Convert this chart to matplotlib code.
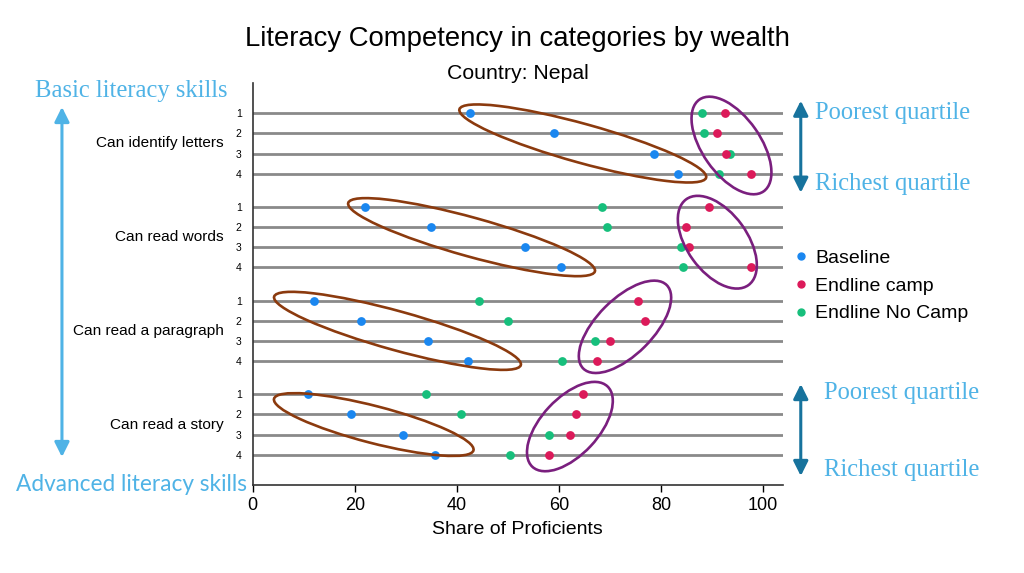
"""Literacy competency by wealth quartile, Nepal: dot plot with annotation ellipses."""

import matplotlib
matplotlib.use("Agg")
import matplotlib.pyplot as plt
import numpy as np
from matplotlib.lines import Line2D
from matplotlib.patches import Ellipse, FancyArrowPatch
from matplotlib.transforms import ScaledTranslation

categories = ["Can identify letters", "Can read words",
              "Can read a paragraph", "Can read a story"]
quartiles = ["1", "2", "3", "4"]

# share of proficients per quartile (1 = poorest ... 4 = richest)
baseline = [[42.6, 59.1, 78.6, 83.3],
            [22.0, 35.0, 53.3, 60.5],
            [12.1, 21.2, 34.4, 42.2],
            [10.8, 19.3, 29.5, 35.7]]
endline_camp = [[92.5, 91.0, 92.7, 97.6],
                [89.4, 85.0, 85.5, 97.6],
                [75.5, 76.9, 70.1, 67.4],
                [64.8, 63.3, 62.2, 58.0]]
endline_no_camp = [[88.0, 88.4, 93.5, 91.5],
                   [68.4, 69.4, 83.9, 84.4],
                   [44.4, 50.1, 67.0, 60.6],
                   [34.0, 40.9, 58.0, 50.5]]

C_BASE = "#1a87f0"
C_CAMP = "#dc1a5a"
C_NOCAMP = "#17bf7c"
C_BROWN = "#8b3a0e"
C_PURPLE = "#7a1f7e"
C_LIGHT = "#4fb3e6"
C_DARK = "#17739d"

GROUP_STEP = 4.65

plt.rcParams["font.family"] = ["Liberation Sans", "DejaVu Sans"]

fig = plt.figure(figsize=(10.24, 5.73), dpi=100)
ax = fig.add_axes([0.2468, 0.1536, 0.5176, 0.7015])

ypos = []
for g in range(len(categories)):
    ypos.append([g * GROUP_STEP + r for r in range(len(quartiles))])
ypos = np.array(ypos)

for y in ypos.ravel():
    ax.axhline(y, color="#8a8a8a", lw=2.0, zorder=1)

for vals, col, lab in [(baseline, C_BASE, "Baseline"),
                       (endline_no_camp, C_NOCAMP, "Endline No Camp"),
                       (endline_camp, C_CAMP, "Endline camp")]:
    ax.scatter(np.array(vals).ravel(), ypos.ravel(), s=40, color=col,
               zorder=3, linewidths=0, label=lab)

# ellipses: centred on the group mean of a series, size in pixels
brown_shape = [(256, 39, -15.5), (256, 39, -15.5), (256, 39, -15.5), (206, 37, -14.5)]
brown_dx = [-1.2, 0.2, 0.9, -0.1]
purple_shape = [(112, 58, -55), (106, 60, -54), (118, 56, 45), (110, 57, 47)]
purple_dx = [0.4, 1.7, 0.5, 0.1]
purple_dy = [0.1, 0.25, -0.2, 0.1]

for g in range(len(categories)):
    yc = ypos[g].mean()
    for vals, shape, dx, dy, col in [
            (baseline, brown_shape, brown_dx, [0] * 4, C_BROWN),
            (endline_camp, purple_shape, purple_dx, purple_dy, C_PURPLE)]:
        w, h, ang = shape[g]
        xc = np.mean(vals[g]) + dx[g]
        tr = fig.dpi_scale_trans + ScaledTranslation(xc, yc + dy[g], ax.transData)
        ax.add_patch(Ellipse((0, 0), w / 100, h / 100, angle=ang, transform=tr,
                             fill=False, ec=col, lw=1.9, zorder=4))

ax.set_xlim(0, 103.9)
ax.set_ylim(ypos.max() + 1.5, -1.5)
ax.set_xticks([0, 20, 40, 60, 80, 100])
ax.tick_params(axis="x", labelsize=13, length=5, width=1, direction="out")
ax.set_yticks(ypos.ravel())
ax.set_yticklabels(quartiles * len(categories))
ax.tick_params(axis="y", labelsize=7.5, length=0, pad=8)
ax.set_xlabel("Share of Proficients", fontsize=14, labelpad=5)
for s in ["top", "right"]:
    ax.spines[s].set_visible(False)
for s in ["left", "bottom"]:
    ax.spines[s].set_color("#333333")
    ax.spines[s].set_linewidth(1.2)

for g, cat in enumerate(categories):
    ax.text(-0.054, ypos[g].mean(), cat, transform=ax.get_yaxis_transform(),
            ha="right", va="center", fontsize=11.1)

fig.text(0.505, 0.932, "Literacy Competency in categories by wealth",
         ha="center", va="center", fontsize=19.8)
fig.text(0.506, 0.872, "Country: Nepal", ha="center", va="center", fontsize=15.3)

# left side annotation
fig.text(0.0342, 0.8410, "Basic literacy skills", ha="left", va="center",
         fontsize=17.7, color=C_LIGHT, family="Liberation Serif")
fig.text(0.0156, 0.1553, "Advanced literacy skills", ha="left", va="center",
         fontsize=16.3, color=C_LIGHT, family="Lato")
fig.patches.append(FancyArrowPatch((0.0605, 0.8133), (0.0605, 0.2024),
                                   transform=fig.transFigure, arrowstyle="<|-|>",
                                   mutation_scale=22, lw=2.2, color=C_LIGHT,
                                   shrinkA=0, shrinkB=0))

# right side annotation
for x_txt, y_top, y_bot, a_top, a_bot in [(0.7959, 0.803, 0.6786, 0.8243, 0.6637),
                                          (0.8047, 0.3144, 0.1795, 0.3298, 0.1693)]:
    fig.text(x_txt, y_top, "Poorest quartile", ha="left", va="center",
             fontsize=17.7, color=C_LIGHT, family="Liberation Serif")
    fig.text(x_txt, y_bot, "Richest quartile", ha="left", va="center",
             fontsize=17.7, color=C_LIGHT, family="Liberation Serif")
    fig.patches.append(FancyArrowPatch((0.782, a_top), (0.782, a_bot),
                                       transform=fig.transFigure, arrowstyle="<|-|>",
                                       mutation_scale=22, lw=2.2, color=C_DARK,
                                       shrinkA=0, shrinkB=0))

handles = [Line2D([], [], marker="o", ls="", color=c, markersize=5)
           for c in (C_BASE, C_CAMP, C_NOCAMP)]
fig.legend(handles, ["Baseline", "Endline camp", "Endline No Camp"],
           loc="upper left", bbox_to_anchor=(0.777, 0.565), frameon=False,
           fontsize=14, handlelength=0.55, handletextpad=0.45, labelspacing=0.52,
           borderpad=0, borderaxespad=0)

fig.savefig("out.png", dpi=100)
